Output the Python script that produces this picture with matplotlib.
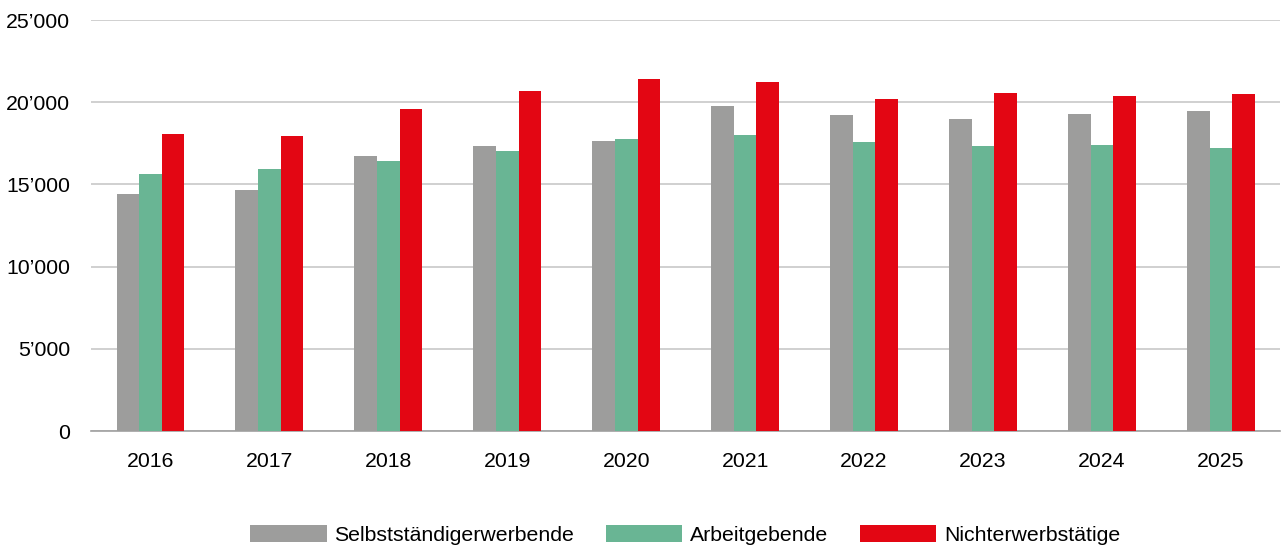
import matplotlib
matplotlib.use("Agg")
import matplotlib.pyplot as plt
import numpy as np
from matplotlib.ticker import FuncFormatter

years = ["2016", "2017", "2018", "2019", "2020", "2021", "2022", "2023", "2024", "2025"]
selbst = [14400, 14650, 16720, 17330, 17640, 19770, 19220, 18980, 19280, 19460]
arbeit = [15630, 15940, 16420, 17030, 17760, 18000, 17580, 17340, 17400, 17210]
nicht = [18070, 17940, 19590, 20680, 21410, 21230, 20200, 20560, 20380, 20500]
series_names = ["Selbstständigerwerbende", "Arbeitgebende", "Nichterwerbstätige"]
colors = ["#9D9D9C", "#69B594", "#E30613"]

plt.rcParams['font.family'] = ['Liberation Sans', 'DejaVu Sans']

fig = plt.figure(figsize=(12.83, 5.47), dpi=100)
ax = fig.add_axes([0.0709, 0.212, 0.9271, 0.7514])

x = np.arange(len(years))
w = 0.19
for i, (vals, name, c) in enumerate(zip([selbst, arbeit, nicht], series_names, colors)):
    ax.bar(x + (i - 1) * w, vals, width=w, color=c, label=name, zorder=3)

ax.set_xlim(-0.5, len(years) - 0.5)
ax.set_ylim(0, 25000)
ax.set_yticks(np.arange(0, 25001, 5000))

def fmt(v, pos):
    v = int(round(v))
    if v >= 1000:
        return f"{v // 1000}\u2019{v % 1000:03d}"
    return str(v)

ax.yaxis.set_major_formatter(FuncFormatter(fmt))
ax.set_xticks(x)
ax.set_xticklabels(years)
ax.tick_params(axis='both', length=0, labelsize=15.3, colors='#000000')
ax.tick_params(axis='x', pad=15)
ax.tick_params(axis='y', pad=15)
ax.grid(axis='y', color='#C8C8C8', linewidth=1.2, zorder=0)
for s in ['top', 'right', 'left']:
    ax.spines[s].set_visible(False)
ax.spines['bottom'].set_color('#A0A0A0')
ax.spines['bottom'].set_linewidth(1.2)

fig.legend(loc='center', bbox_to_anchor=(0.534, 0.022), ncol=3, frameon=False,
           fontsize=15.3, handlelength=3.6, handleheight=0.85, columnspacing=1.5,
           handletextpad=0.35, borderpad=0.1)

fig.savefig("out.png", dpi=100)
